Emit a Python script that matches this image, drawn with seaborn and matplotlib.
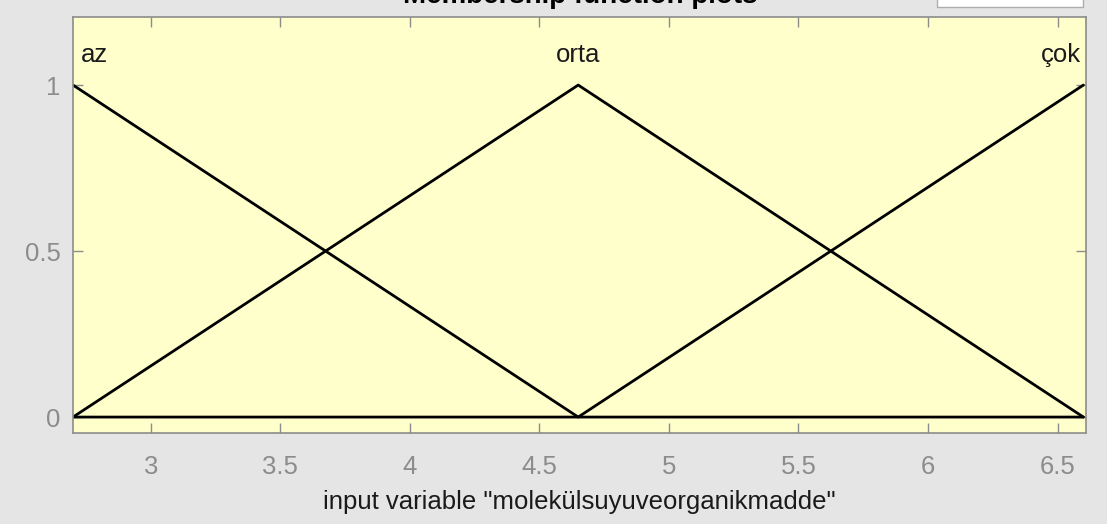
import pandas as pd
import matplotlib.pyplot as plt
import seaborn as sns

# membership functions of the input variable (trimf breakpoints)
x_pts = [2.7, 4.65, 6.6]
mf_names = ['az', 'orta', 'çok']
az_vals = [1, 0, 0]
orta_vals = [0, 1, 0]
cok_vals = [0, 0, 1]
label_x = [2.73, 4.65, 6.59]
label_y = [1.09, 1.09, 1.09]
label_ha = ['left', 'center', 'right']
x_ticks = [3, 3.5, 4, 4.5, 5, 5.5, 6, 6.5]
y_ticks = [0, 0.5, 1]

df = pd.DataFrame({
    'x': x_pts * 3,
    'mu': az_vals + orta_vals + cok_vals,
    'mf': [n for n in mf_names for _ in x_pts],
})

sns.set_style('ticks')
plt.rcParams['font.family'] = ['Liberation Sans', 'DejaVu Sans']

fig = plt.figure(figsize=(11.07, 5.24), dpi=100)
fig.patch.set_facecolor('#e5e5e5')
ax = fig.add_axes([73/1107, 91/524, 1013/1107, 416/524])
ax.set_facecolor('#ffffcc')

sns.lineplot(data=df, x='x', y='mu', units='mf', estimator=None,
             color='black', lw=2, ax=ax, legend=False)

for name, lx, ly, ha in zip(mf_names, label_x, label_y, label_ha):
    ax.text(lx, ly, name, ha=ha, va='center', fontsize=18.5, color='#1a1a1a')

ax.set_xlim(2.7, 6.61)
ax.set_ylim(-0.048, 1.205)
ax.set_xticks(x_ticks)
ax.set_xticklabels(['3', '3.5', '4', '4.5', '5', '5.5', '6', '6.5'])
ax.set_yticks(y_ticks)
ax.set_yticklabels(['0', '0.5', '1'])
ax.tick_params(direction='in', length=7, width=1, colors='#8c8c8c',
               labelsize=18.5, top=True, right=True)
ax.tick_params(axis='x', pad=16)
ax.tick_params(axis='y', pad=9)
for s in ax.spines.values():
    s.set_color('#8c8c8c')
    s.set_linewidth(1.2)
ax.set_xlabel('input variable "molekülsuyuveorganikmadde"', fontsize=18.5,
              color='#1a1a1a', labelpad=8)
ax.set_ylabel('')

# title of the panel, cut off by the top edge of the window
fig.text(580/1107, 1 - 3/524, 'Membership function plots', ha='center',
         va='baseline', fontsize=20, fontweight='bold', color='black')

# popup menu box at top right
box = plt.Rectangle((937/1107, 1 - 7/524), 146/1107, 12/524,
                    transform=fig.transFigure, facecolor='white',
                    edgecolor='#adadad', lw=1)
fig.patches.append(box)

fig.savefig('out.png', dpi=100, facecolor=fig.get_facecolor())
